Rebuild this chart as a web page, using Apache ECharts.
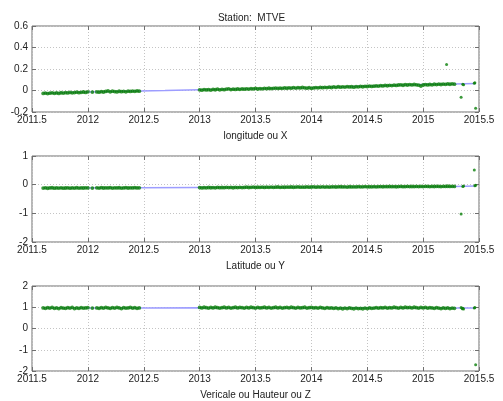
<!DOCTYPE html>
<html>
<head>
<meta charset="utf-8">
<script src="https://cdn.jsdelivr.net/npm/echarts@6/dist/echarts.min.js"></script>
<style>
  html, body { margin: 0; padding: 0; background: #fff; }
  #chart { width: 503px; height: 401px; }
</style>
</head>
<body>
<div id="chart"></div>
<script>
// GPS station MTVE: position residuals (m) versus decimal year.
// Solutions sampled every STEP year, in two continuous campaigns.
const STEP = 0.02;
const START_A = 2011.60;   // first campaign 2011.60 .. 2012.46
const START_B = 2013.00;   // second campaign 2013.00 .. 2015.28

// ---- longitude / X ----
const xCampA = [-0.027,-0.024,-0.029,-0.025,-0.022,-0.026,-0.023,-0.027,-0.021,-0.024,
  -0.020,-0.023,-0.018,-0.022,-0.019,-0.016,-0.020,-0.017,-0.014,-0.018,
  -0.012,null,-0.015,null,-0.013,-0.016,-0.011,-0.014,-0.009,-0.004,
  -0.012,-0.006,-0.010,-0.013,-0.007,-0.011,-0.008,-0.012,-0.006,-0.009,
  -0.005,-0.008,-0.004,-0.006];
const xCampB = [0.006,0.003,0.009,0.005,0.008,0.004,0.010,0.007,0.012,0.006,
  0.011,0.008,0.013,0.016,0.009,0.012,0.010,0.014,0.011,0.015,
  0.012,0.016,0.013,0.017,0.015,0.019,0.014,0.018,0.016,0.020,
  0.017,0.021,0.018,0.020,0.023,0.019,0.022,0.020,0.024,0.021,
  0.025,0.022,0.027,0.023,0.026,0.024,0.028,0.025,0.022,0.026,
  0.020,0.024,0.027,0.025,0.029,0.026,0.030,0.027,0.031,0.028,
  0.033,0.030,0.035,0.031,0.034,0.032,0.036,0.033,0.035,0.031,
  0.036,0.034,0.038,0.035,0.039,0.037,0.041,0.038,0.040,0.043,
  0.041,0.045,0.043,0.047,0.044,0.048,0.046,0.050,0.047,0.051,
  0.053,0.049,0.054,0.051,0.055,0.052,0.056,0.053,0.050,0.042,
  0.051,0.055,0.052,0.056,0.053,0.058,0.055,0.059,0.056,0.060,
  0.057,0.061,0.058,0.062,0.059];
const xExtraT = [2015.21, 2015.34, 2015.355, 2015.362, 2015.458, 2015.463, 2015.47];
const xExtraV = [0.243, -0.062, 0.058, 0.053, 0.068, 0.072, -0.165];
const xModelT = [2011.60, 2012.00, 2012.47, 2012.69, 2012.70, 2013.00, 2014.00, 2015.00, 2015.28, 2015.47];
const xModelV = [-0.025, -0.013, -0.004, 0.000, 0.004, 0.006, 0.026, 0.055, 0.060, 0.066];

// ---- latitude / Y ----
const yCampA = [-0.120,-0.110,-0.125,-0.115,-0.108,-0.122,-0.113,-0.119,-0.110,-0.124,
  -0.116,-0.109,-0.121,-0.114,-0.118,-0.107,-0.120,-0.112,-0.117,-0.110,
  -0.115,null,-0.120,null,-0.111,-0.118,-0.106,-0.116,-0.109,-0.113,
  -0.104,-0.119,-0.110,-0.115,-0.107,-0.118,-0.112,-0.105,-0.116,-0.109,
  -0.113,-0.106,-0.114,-0.110];
const yCampB = [-0.100,-0.112,-0.104,-0.109,-0.098,-0.107,-0.101,-0.111,-0.096,-0.105,
  -0.099,-0.106,-0.094,-0.103,-0.097,-0.108,-0.095,-0.101,-0.092,-0.100,
  -0.096,-0.088,-0.099,-0.093,-0.085,-0.097,-0.090,-0.094,-0.086,-0.095,
  -0.089,-0.093,-0.084,-0.091,-0.087,-0.082,-0.092,-0.086,-0.090,-0.083,
  -0.088,-0.081,-0.090,-0.085,-0.079,-0.087,-0.083,-0.089,-0.080,-0.086,
  -0.082,-0.077,-0.086,-0.080,-0.084,-0.075,-0.083,-0.078,-0.085,-0.079,
  -0.074,-0.081,-0.077,-0.072,-0.080,-0.076,-0.083,-0.073,-0.078,-0.075,
  -0.079,-0.071,-0.076,-0.074,-0.068,-0.077,-0.072,-0.075,-0.069,-0.074,
  -0.070,-0.065,-0.073,-0.068,-0.071,-0.064,-0.070,-0.066,-0.072,-0.067,
  -0.063,-0.069,-0.065,-0.060,-0.068,-0.064,-0.067,-0.061,-0.066,-0.062,
  -0.065,-0.059,-0.063,-0.068,-0.060,-0.064,-0.057,-0.062,-0.066,-0.058,
  -0.061,-0.055,-0.063,-0.058,-0.062];
const yExtraT = [2015.34, 2015.355, 2015.362, 2015.458, 2015.463, 2015.47];
const yExtraV = [-1.02, -0.060, -0.050, 0.51, -0.040, -0.020];
const yModelT = [2011.60, 2012.47, 2013.00, 2015.28, 2015.47];
const yModelV = [-0.115, -0.110, -0.103, -0.060, -0.050];

// ---- vertical / Z ----
const zCampA = [0.97,0.95,0.98,0.96,0.99,0.95,0.97,0.94,0.98,0.96,
  0.95,0.98,0.96,0.99,0.94,0.97,0.95,0.98,0.96,0.97,
  0.98,null,0.96,null,0.97,0.95,0.98,0.96,0.99,0.97,
  0.95,0.98,0.96,0.99,0.97,0.94,0.98,0.96,0.97,0.99,
  0.96,0.98,0.95,0.97];
const zCampB = [0.99,0.97,1.00,0.98,0.96,0.99,0.97,1.00,0.98,0.96,
  0.98,1.00,0.97,0.99,0.96,0.98,1.00,0.97,0.99,0.98,
  0.96,0.99,0.97,1.00,0.98,0.96,0.99,0.97,0.98,1.00,
  0.97,0.99,0.96,0.98,1.00,0.97,0.99,0.96,0.98,0.99,
  0.97,1.00,0.98,0.96,0.99,0.97,0.98,1.00,0.96,0.98,
  0.99,0.97,0.98,0.96,0.99,0.97,0.95,0.98,0.96,0.97,
  0.95,0.97,0.94,0.96,0.93,0.96,0.94,0.97,0.95,0.93,
  0.96,0.94,0.95,0.93,0.96,0.94,0.97,0.95,0.96,0.98,
  0.96,0.98,0.97,0.99,0.96,0.98,0.97,1.00,0.98,0.96,
  0.99,0.97,1.00,0.98,0.99,0.97,1.00,0.98,0.96,0.99,
  0.97,0.99,0.96,0.98,0.97,0.95,0.98,0.96,0.94,0.97,
  0.95,0.97,0.94,0.96,0.95];
const zExtraT = [2015.34, 2015.35, 2015.355, 2015.362, 2015.458, 2015.463, 2015.47];
const zExtraV = [0.99, 0.93, 0.95, 0.92, 0.97, 0.99, -1.70];
const zModelT = [2011.60, 2012.47, 2013.00, 2015.28, 2015.47];
const zModelV = [0.97, 0.97, 0.98, 0.96, 0.97];

// ---- axes ----
const yearTicks = { min: 2011.5, max: 2015.5, interval: 0.5 };
const panels = [
  { name: 'longitude ou X', campA: xCampA, campB: xCampB, extraT: xExtraT, extraV: xExtraV,
    modelT: xModelT, modelV: xModelV, min: -0.2, max: 0.6, interval: 0.2 },
  { name: 'Latitude ou Y', campA: yCampA, campB: yCampB, extraT: yExtraT, extraV: yExtraV,
    modelT: yModelT, modelV: yModelV, min: -2, max: 1, interval: 1 },
  { name: 'Vericale ou Hauteur ou Z', campA: zCampA, campB: zCampB, extraT: zExtraT, extraV: zExtraV,
    modelT: zModelT, modelV: zModelV, min: -2, max: 2, interval: 1 }
];

const FONT = 'Liberation Sans, Arial, sans-serif';
const GREEN = '#0a800a';
const BLUE = '#9d9dff';
const FRAME = '#6f6f6f';
const tops = [26, 156, 286];
const PLOT_H = 86;

function campaign(start, vals) {
  const out = [];
  vals.forEach(function (v, i) {
    if (v !== null) out.push([+(start + i * STEP).toFixed(3), v]);
  });
  return out;
}
function zip(t, v) { return t.map(function (x, i) { return [x, v[i]]; }); }

const tickStyle = { show: true, inside: true, length: 4, lineStyle: { color: FRAME } };
const gridLine = { show: true, lineStyle: { color: '#c4c4c4', type: [1, 2], width: 1 } };

const grid = [], xAxis = [], yAxis = [], series = [];
panels.forEach(function (p, k) {
  grid.push({ left: 32, right: 24, top: tops[k], height: PLOT_H,
    show: true, borderColor: FRAME, borderWidth: 1, backgroundColor: '#fff' });

  // bottom axis with labels and caption
  xAxis.push({ type: 'value', gridIndex: k, position: 'bottom',
    min: yearTicks.min, max: yearTicks.max, interval: yearTicks.interval,
    name: p.name, nameLocation: 'middle', nameGap: 19,
    nameTextStyle: { fontFamily: FONT, fontSize: 10, color: '#222' },
    axisLine: { show: false, onZero: false },
    axisTick: tickStyle,
    axisLabel: { fontFamily: FONT, fontSize: 10, color: '#222', margin: 3,
      formatter: function (v) { return String(+v.toFixed(1)); } },
    splitLine: gridLine });
  // top edge ticks
  xAxis.push({ type: 'value', gridIndex: k, position: 'top',
    min: yearTicks.min, max: yearTicks.max, interval: yearTicks.interval,
    axisLine: { show: false, onZero: false }, axisLabel: { show: false }, splitLine: { show: false },
    axisTick: tickStyle });

  yAxis.push({ type: 'value', gridIndex: k, position: 'left',
    min: p.min, max: p.max, interval: p.interval,
    axisLine: { show: false, onZero: false },
    axisTick: tickStyle,
    axisLabel: { fontFamily: FONT, fontSize: 10, color: '#222', margin: 4,
      formatter: function (v) { return String(+v.toFixed(2)); } },
    splitLine: gridLine });
  yAxis.push({ type: 'value', gridIndex: k, position: 'right',
    min: p.min, max: p.max, interval: p.interval,
    axisLine: { show: false, onZero: false }, axisLabel: { show: false }, splitLine: { show: false },
    axisTick: tickStyle });

  const xi = 2 * k, yi = 2 * k;
  series.push({ type: 'line', xAxisIndex: xi, yAxisIndex: yi, z: 2,
    data: zip(p.modelT, p.modelV), showSymbol: false, symbol: 'none',
    lineStyle: { color: BLUE, width: 1.5 }, silent: true, animation: false });
  // continuous campaigns form a dense band; isolated solutions are drawn slightly smaller
  [[campaign(START_A, p.campA), 3.8], [campaign(START_B, p.campB), 3.8],
   [zip(p.extraT, p.extraV), 3]].forEach(function (s) {
    series.push({ type: 'scatter', xAxisIndex: xi, yAxisIndex: yi, z: 3,
      data: s[0], symbol: 'circle', symbolSize: s[1],
      itemStyle: { color: GREEN }, silent: true, animation: false });
  });
});

const chart = echarts.init(document.getElementById('chart'), null, { renderer: 'canvas' });
chart.setOption({
  animation: false,
  backgroundColor: '#fff',
  title: { text: 'Station:  MTVE', left: 'center', top: 8,
    textStyle: { fontFamily: FONT, fontSize: 10, fontWeight: 'normal', color: '#222' } },
  grid: grid, xAxis: xAxis, yAxis: yAxis, series: series
});
</script>
</body>
</html>
